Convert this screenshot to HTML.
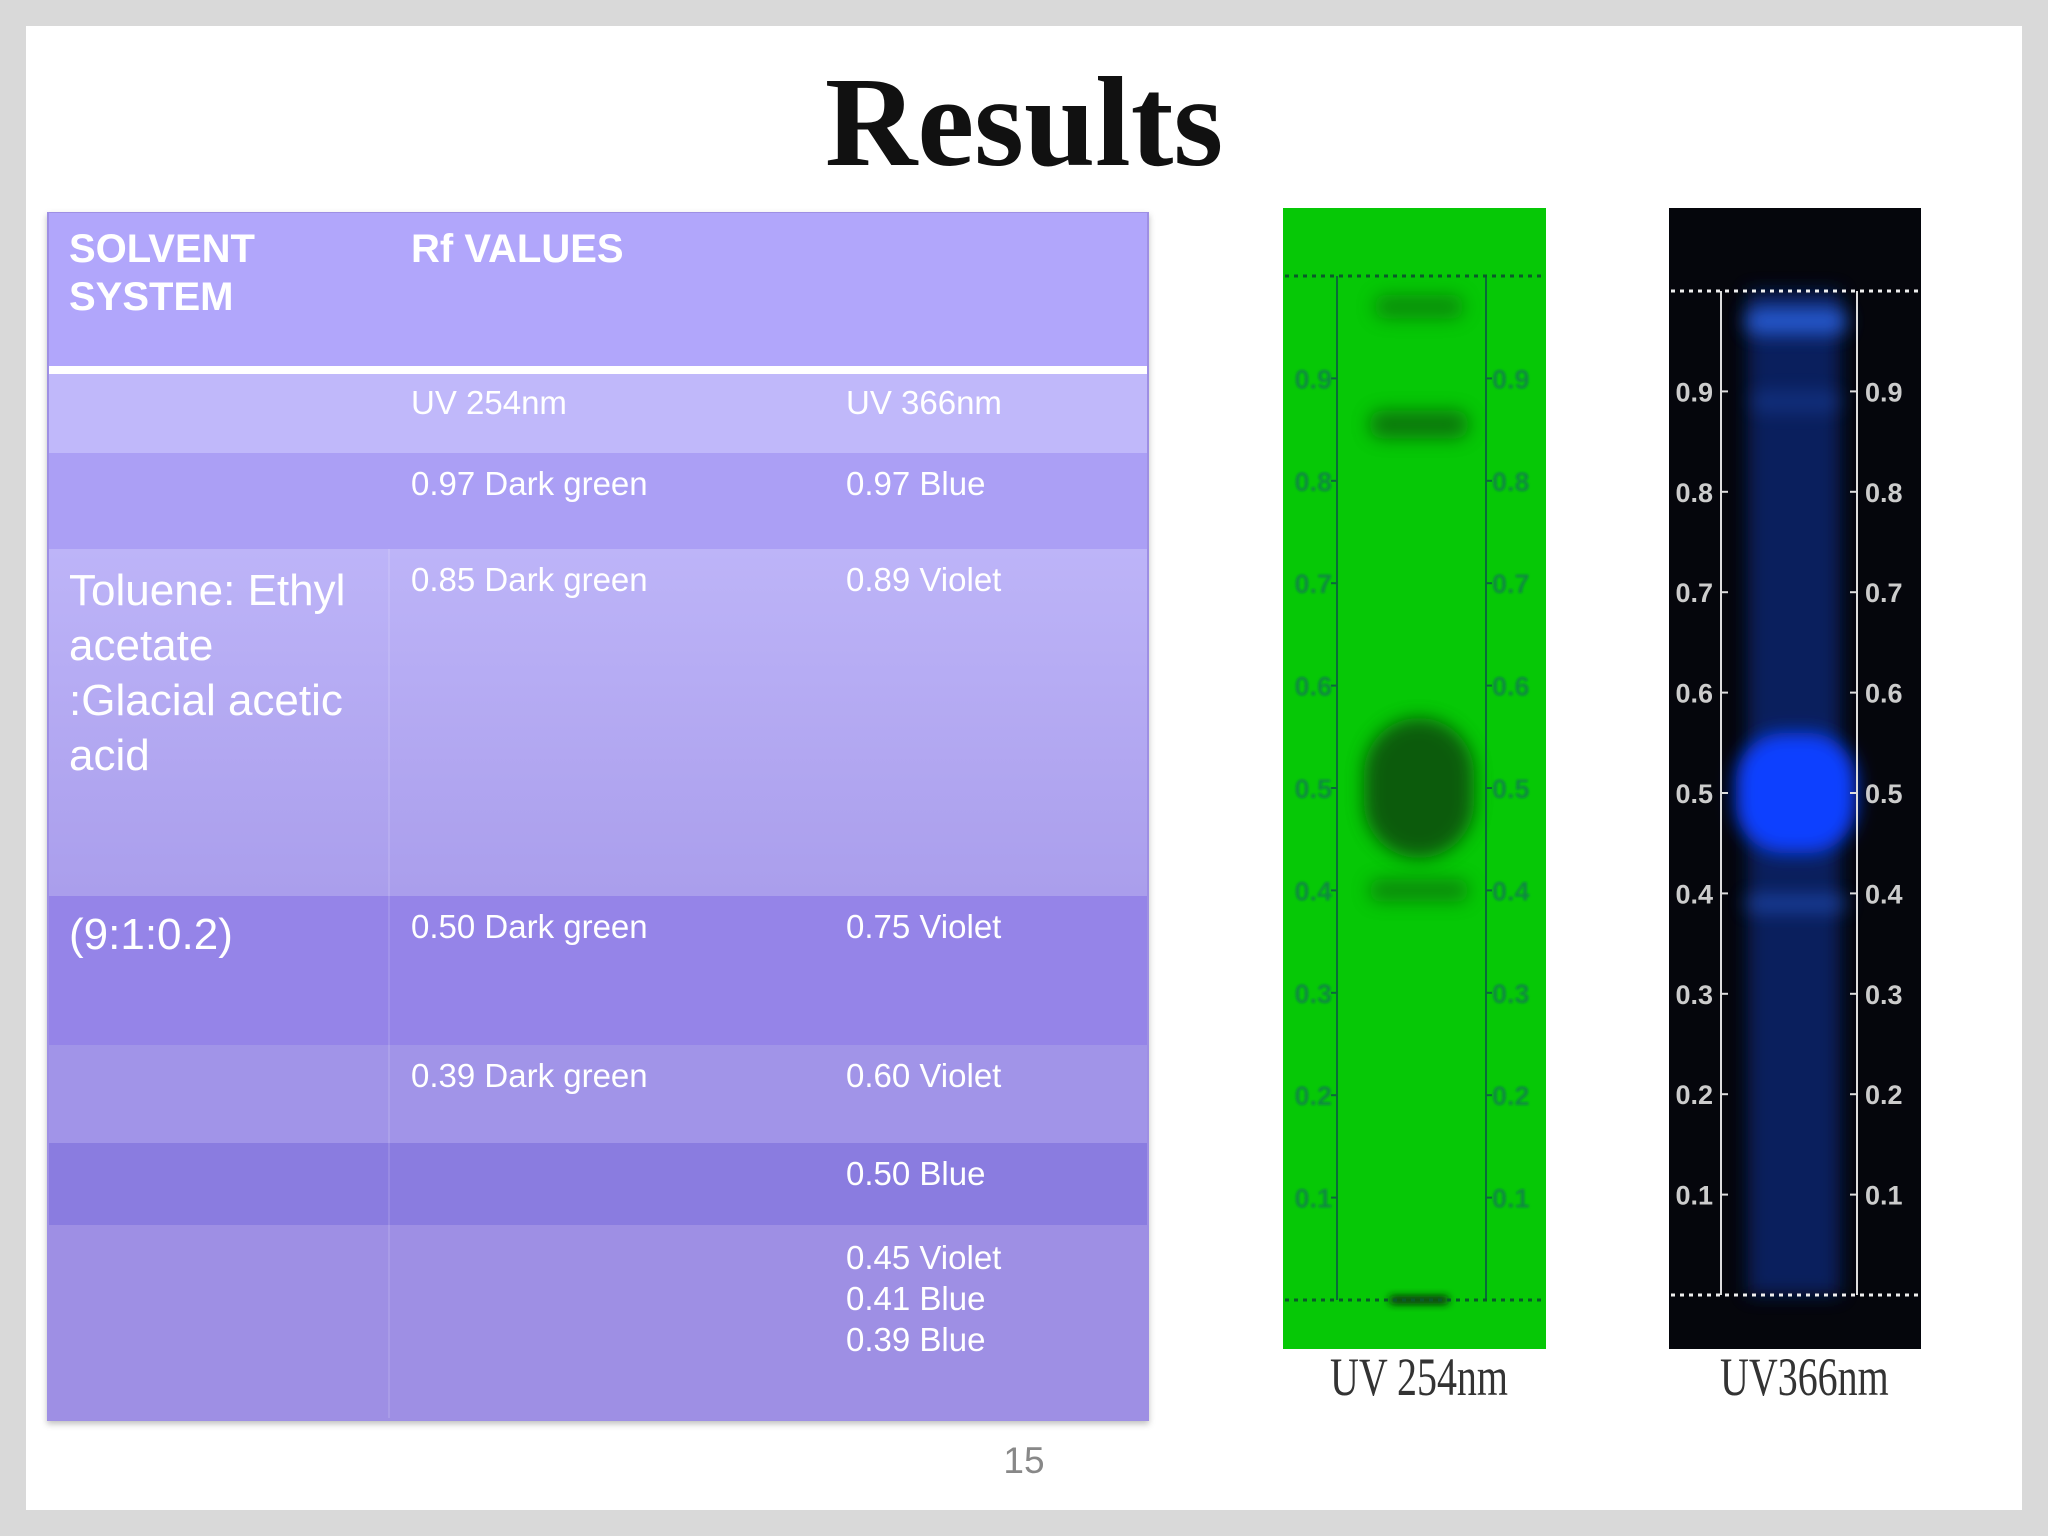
<!DOCTYPE html>
<html><head><meta charset="utf-8">
<style>
html,body{margin:0;padding:0;}
body{width:2048px;height:1536px;background:#d9d9d9;position:relative;overflow:hidden;font-family:"Liberation Sans",sans-serif;}
#slide{position:absolute;left:26px;top:26px;width:1996px;height:1484px;background:#fff;}
.title{position:absolute;left:0;width:2048px;top:52px;text-align:center;font-family:"Liberation Serif",serif;font-weight:bold;font-size:128px;line-height:140px;color:#111;}
.row{position:absolute;left:49px;width:1098px;}
.t{position:absolute;color:#fff;font-size:33px;line-height:38px;white-space:nowrap;}
.c1{left:20px}.c2{left:362px}.c3{left:797px}
.pn{position:absolute;left:0;width:2048px;text-align:center;top:1440px;font-size:37px;color:#888;}
.lbl{position:absolute;font-family:"Liberation Serif",serif;font-size:54px;color:#333;transform:scaleX(0.74);transform-origin:left top;white-space:nowrap;}
</style></head><body>
<div id="slide"></div>
<div class="title">Results</div>

<div style="position:absolute;left:47px;top:212px;width:1102px;height:1209px;box-shadow:0 3px 6px rgba(0,0,0,0.25);background:#9e8fe4;">
</div>
<div class="row" style="top:213px;height:153px;background:#b1a6fb;">
 <div class="t c1" style="top:12px;font-weight:bold;font-size:40px;line-height:48px;">SOLVENT<br>SYSTEM</div>
 <div class="t c2" style="top:12px;font-weight:bold;font-size:40px;line-height:48px;">Rf VALUES</div>
</div>
<div class="row" style="top:366px;height:8px;background:#fff;"></div>
<div class="row" style="top:374px;height:79px;background:#c0b8fa;">
 <div class="t c2" style="top:10px">UV 254nm</div><div class="t c3" style="top:10px">UV 366nm</div></div>
<div class="row" style="top:453px;height:96px;background:#ab9ff5;">
 <div class="t c2" style="top:12px">0.97 Dark green</div><div class="t c3" style="top:12px">0.97 Blue</div></div>
<div class="row" style="top:549px;height:347px;background:linear-gradient(#bdb4f8,#aa9eec);">
 <div class="t c1" style="top:14px;font-size:44px;line-height:55px;">Toluene: Ethyl<br>acetate<br>:Glacial acetic<br>acid</div>
 <div class="t c2" style="top:12px">0.85 Dark green</div><div class="t c3" style="top:12px">0.89 Violet</div></div>
<div class="row" style="top:896px;height:149px;background:#9584e8;">
 <div class="t c1" style="top:14px;font-size:44px;line-height:50px;">(9:1:0.2)</div>
 <div class="t c2" style="top:12px">0.50 Dark green</div><div class="t c3" style="top:12px">0.75 Violet</div></div>
<div class="row" style="top:1045px;height:98px;background:#a194e8;">
 <div class="t c2" style="top:12px">0.39 Dark green</div><div class="t c3" style="top:12px">0.60 Violet</div></div>
<div class="row" style="top:1143px;height:82px;background:#8a7ce0;">
 <div class="t c3" style="top:12px">0.50 Blue</div></div>
<div class="row" style="top:1225px;height:193px;background:#9e8fe4;">
 <div class="t c3" style="top:12px;line-height:41px;">0.45 Violet<br>0.41 Blue<br>0.39 Blue</div></div>
<div style="position:absolute;left:388px;top:549px;width:2px;height:869px;background:rgba(255,255,255,0.12);"></div>

<svg id="plates" style="position:absolute;left:0;top:0" width="2048" height="1536">
<defs>
<filter id="bl" x="-50%" y="-100%" width="200%" height="300%"><feGaussianBlur stdDeviation="9"/></filter>
<filter id="bl2" x="-50%" y="-100%" width="200%" height="300%"><feGaussianBlur stdDeviation="4"/></filter>
<filter id="bl1" x="-20%" y="-20%" width="140%" height="140%"><feGaussianBlur stdDeviation="1"/></filter>
</defs>
<rect x="1283" y="208" width="263" height="1141" fill="#06c806"/>
<rect x="1669" y="208" width="252" height="1141" fill="#05060c"/>
<g id="g"></g>
</svg>
<div class="lbl" style="left:1330px;top:1346px;">UV 254nm</div>
<div class="lbl" style="left:1720px;top:1346px;">UV366nm</div>
<div class="pn">15</div>

<script>
const tickValues=[0.1,0.2,0.3,0.4,0.5,0.6,0.7,0.8,0.9];
const tickLabels=["0.1","0.2","0.3","0.4","0.5","0.6","0.7","0.8","0.9"];
const greenRf=[0.97,0.855,0.5,0.40,0.0];
const greenIntensity=[0.5,0.7,0.95,0.55,1.0];
const blueRf=[0.97,0.89,0.5,0.39];
const blueIntensity=[0.85,0.25,1.0,0.5];
const NS="http://www.w3.org/2000/svg";
const g=document.getElementById('g');
function mk(t,a){const e=document.createElementNS(NS,t);for(const k in a)e.setAttribute(k,a[k]);g.appendChild(e);return e;}
const yG=r=>1300-r*1024;
const yB=r=>1295-r*1004;
const gSizes=[[90,24],[100,28],[110,140],[100,22],[60,8]];
let col=mk('rect',{x:1748,y:yB(1.0),width:92,height:yB(0)-yB(1.0),fill:'#0a2a80',opacity:0.7,filter:'url(#bl)'});


greenRf.forEach((r,i)=>{
 const [w,h]=gSizes[i];
 const e=mk('rect',{x:1419-w/2,y:yG(r)-h/2,width:w,height:h,rx:Math.min(w,h)/2,fill:i==4?'#102010':'#0a560a',opacity:greenIntensity[i],filter:i==4?'url(#bl2)':'url(#bl)'});
 
 
});
const bSizes=[[100,26],[90,20],[120,120],[100,16]];
blueRf.forEach((r,i)=>{
 const [w,h]=bSizes[i];
 const e=mk('rect',{x:1796-w/2,y:yB(r)-h/2,width:w,height:h,rx:Math.min(w,h)/2.5,fill:i==2?'#1040ff':'#2a62e0',opacity:blueIntensity[i],filter:'url(#bl)'});
 
 
});
[1337,1486].forEach(x=>{
 const l=mk('line',{x1:x,x2:x,y1:yG(1.0),y2:yG(0),stroke:'#0a6a3a','stroke-width':2});
 });
[1721,1857].forEach(x=>{
 const l=mk('line',{x1:x,x2:x,y1:yB(1.0),y2:yB(0),stroke:'#ddd','stroke-width':2});
 });
[yG(1.0),yG(0)].forEach(y=>{const l=mk('line',{x1:1285,x2:1544,y1:y,y2:y,stroke:'#0a5a2a','stroke-width':3,'stroke-dasharray':'4 5'});
 });
[yB(1.0),yB(0)].forEach(y=>{const l=mk('line',{x1:1671,x2:1919,y1:y,y2:y,stroke:'#eee','stroke-width':3,'stroke-dasharray':'4 5'});
 });
tickValues.forEach((v,i)=>{
 [[1337,-1],[1486,1]].forEach(s=>{
  const t=mk('line',{x1:s[0],x2:s[0]+s[1]*6,y1:yG(v),y2:yG(v),stroke:'#0a6a3a','stroke-width':2});
  
  const tx=mk('text',{x:s[1]<0?1332:1492,y:yG(v)+10,'text-anchor':s[1]<0?'end':'start','font-size':27,'font-weight':'bold',fill:'#0a8a40','font-family':'Liberation Sans, sans-serif',filter:'url(#bl1)'});
  tx.textContent=tickLabels[i];
  
 });
 [[1721,-1],[1857,1]].forEach(s=>{
  const t=mk('line',{x1:s[0],x2:s[0]-s[1]*7,y1:yB(v),y2:yB(v),stroke:'#ddd','stroke-width':2});
  
  const tx=mk('text',{x:s[1]<0?1713:1865,y:yB(v)+10,'text-anchor':s[1]<0?'end':'start','font-size':27,'font-weight':'bold',fill:'#ccc','font-family':'Liberation Sans, sans-serif'});
  tx.textContent=tickLabels[i];
  
 });
});
</script>
</body></html>
